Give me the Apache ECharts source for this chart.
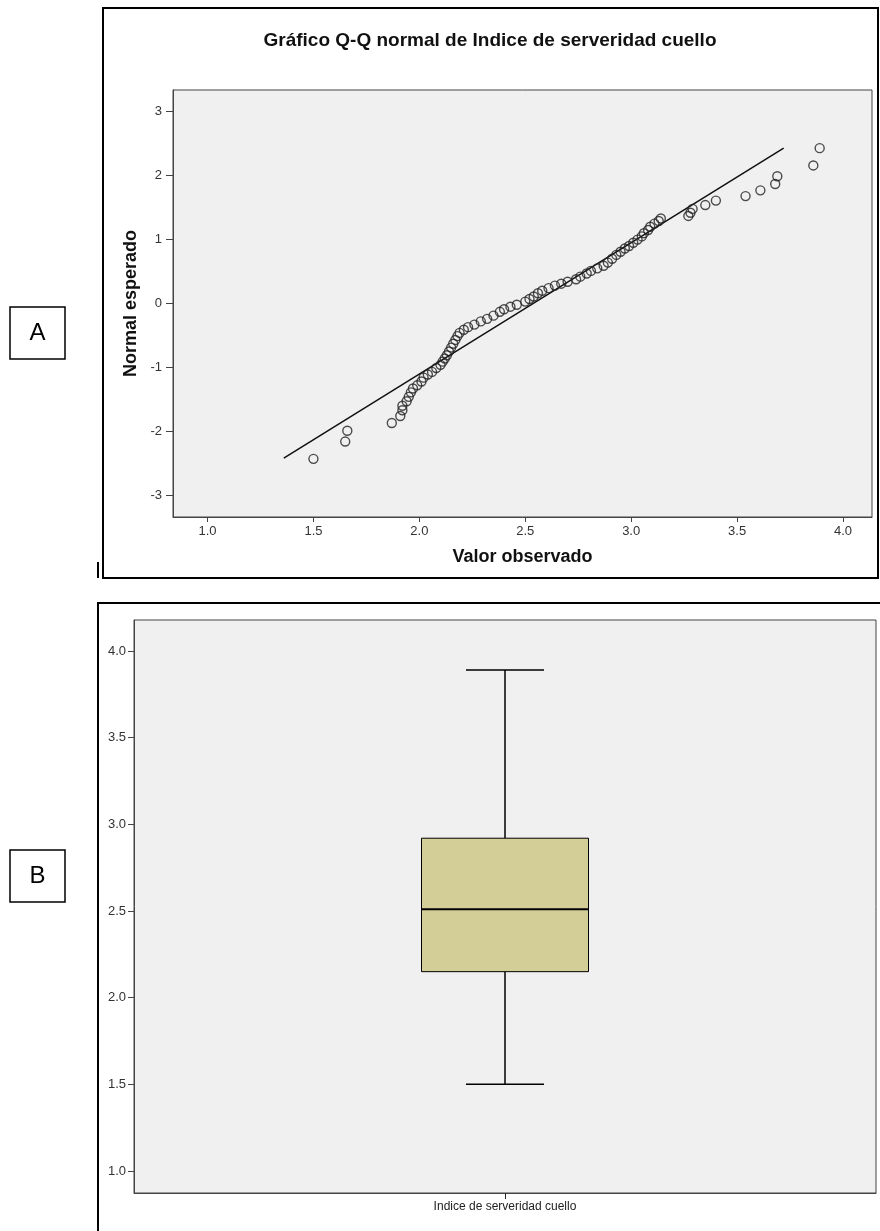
<!DOCTYPE html>
<html><head><meta charset="utf-8">
<script src="https://cdn.jsdelivr.net/npm/echarts@6/dist/echarts.min.js"></script>
<style>html,body{margin:0;padding:0;background:#fff}#c{width:880px;height:1231px}</style>
</head><body><div id="c"></div>
<script>
// Q-Q plot: observed value (x) and expected normal value (y)
const qqObserved = [1.50,1.65,1.66,1.87,1.91,1.92,1.92,1.94,1.95,1.96,1.97,1.99,2.01,2.02,2.04,2.06,2.08,2.10,2.11,2.12,2.13,2.14,2.15,2.16,2.17,2.18,2.19,2.21,2.23,2.26,2.29,2.32,2.35,2.38,2.40,2.43,2.46,2.50,2.52,2.54,2.56,2.58,2.61,2.64,2.67,2.70,2.74,2.76,2.79,2.81,2.84,2.87,2.89,2.91,2.93,2.95,2.97,2.99,3.01,3.03,3.05,3.06,3.08,3.09,3.11,3.13,3.14,3.27,3.28,3.29,3.35,3.40,3.54,3.61,3.68,3.69,3.86,3.89];
const qqExpected = [-2.43,-2.16,-1.99,-1.87,-1.76,-1.67,-1.60,-1.53,-1.46,-1.39,-1.33,-1.28,-1.22,-1.16,-1.11,-1.07,-1.01,-0.96,-0.91,-0.86,-0.81,-0.75,-0.69,-0.63,-0.57,-0.51,-0.46,-0.41,-0.37,-0.33,-0.28,-0.24,-0.19,-0.13,-0.09,-0.05,-0.02,0.03,0.07,0.11,0.16,0.20,0.24,0.28,0.31,0.34,0.38,0.42,0.47,0.51,0.55,0.59,0.64,0.70,0.76,0.81,0.86,0.90,0.95,1.00,1.05,1.10,1.15,1.20,1.25,1.29,1.33,1.37,1.42,1.48,1.54,1.61,1.68,1.77,1.87,1.99,2.16,2.43];
const refLineObserved = [1.36, 3.72];
const refLineExpected = [-2.42, 2.43];
const qqXTicks = [1.0,1.5,2.0,2.5,3.0,3.5,4.0];
const qqYTicks = [-3,-2,-1,0,1,2,3];
// Box plot
const boxCategories = ['Indice de serveridad cuello'];
const boxStats = [1.50, 2.15, 2.51, 2.92, 3.89]; // min, Q1, median, Q3, max
const boxYTicks = [1.0,1.5,2.0,2.5,3.0,3.5,4.0];

const FONT = 'Liberation Sans, Arial, sans-serif';
const chart = echarts.init(document.getElementById('c'), null, {renderer:'canvas'});

const qqData = qqObserved.map((v,i)=>[v, qqExpected[i]]);
const lineData = refLineObserved.map((v,i)=>[v, refLineExpected[i]]);

const tickLabel = {color:'#333', fontSize:13, fontFamily:FONT};

chart.setOption({
  animation:false,
  backgroundColor:'#fff',
  grid:[
    {left:173, top:90, width:699, height:427, show:true, backgroundColor:'#f0f0f0', borderColor:'#444', borderWidth:1},
    {left:134, top:620, width:742, height:573, show:true, backgroundColor:'#f0f0f0', borderColor:'#444', borderWidth:1}
  ],
  xAxis:[
    {gridIndex:0, type:'value', min:0.837, max:4.137,
     name:'Valor observado', nameLocation:'middle', nameGap:31,
     nameTextStyle:{fontSize:18, fontWeight:'bold', fontFamily:FONT, color:'#111'},
     axisLine:{show:true, onZero:false, lineStyle:{color:'#444'}},
     axisTick:{show:true, length:5, customValues:qqXTicks, lineStyle:{color:'#444'}},
     axisLabel:{customValues:qqXTicks, formatter:v=>v.toFixed(1), margin:8, ...tickLabel},
     splitLine:{show:false}},
    {gridIndex:1, type:'category', data:boxCategories,
     axisLine:{show:true, onZero:false, lineStyle:{color:'#444'}},
     axisTick:{show:true, length:6, alignWithLabel:true, lineStyle:{color:'#222'}},
     axisLabel:{color:'#222', fontSize:12, fontFamily:FONT, margin:8},
     splitLine:{show:false}}
  ],
  yAxis:[
    {gridIndex:0, type:'value', min:-3.34, max:3.34,
     name:'Normal esperado', nameLocation:'middle', nameGap:27,
     nameTextStyle:{fontSize:18, fontWeight:'bold', fontFamily:FONT, color:'#111'},
     axisLine:{show:true, onZero:false, lineStyle:{color:'#444'}},
     axisTick:{show:true, length:7, customValues:qqYTicks, lineStyle:{color:'#444'}},
     axisLabel:{customValues:qqYTicks, margin:11, ...tickLabel},
     splitLine:{show:false}},
    {gridIndex:1, type:'value', min:0.873, max:4.179,
     axisLine:{show:true, onZero:false, lineStyle:{color:'#444'}},
     axisTick:{show:true, length:6, customValues:boxYTicks, lineStyle:{color:'#444'}},
     axisLabel:{customValues:boxYTicks, formatter:v=>v.toFixed(1), margin:8, ...tickLabel},
     splitLine:{show:false}}
  ],
  series:[
    {type:'line', xAxisIndex:0, yAxisIndex:0, data:lineData, symbol:'none', silent:true,
     lineStyle:{color:'#111', width:1.5}, z:2},
    {type:'scatter', xAxisIndex:0, yAxisIndex:0, data:qqData, symbol:'circle', symbolSize:9,
     itemStyle:{color:'rgba(0,0,0,0)', borderColor:'#222', borderWidth:1.4}, z:3},
    {type:'custom', xAxisIndex:1, yAxisIndex:1, data:[[0].concat(boxStats)],
     renderItem:function(params, api){
       const c = api.value(0);
       const pMin = api.coord([c, api.value(1)]);
       const pQ1 = api.coord([c, api.value(2)]);
       const pMed = api.coord([c, api.value(3)]);
       const pQ3 = api.coord([c, api.value(4)]);
       const pMax = api.coord([c, api.value(5)]);
       const cx = pMin[0], bw = 167, cw = 78;
       const ls = {stroke:'#000', lineWidth:1.5};
       return {type:'group', children:[
         {type:'line', shape:{x1:cx-cw/2, y1:pMax[1], x2:cx+cw/2, y2:pMax[1]}, style:ls},
         {type:'line', shape:{x1:cx, y1:pMax[1], x2:cx, y2:pQ3[1]}, style:ls},
         {type:'line', shape:{x1:cx-cw/2, y1:pMin[1], x2:cx+cw/2, y2:pMin[1]}, style:ls},
         {type:'line', shape:{x1:cx, y1:pMin[1], x2:cx, y2:pQ1[1]}, style:ls},
         {type:'rect', shape:{x:cx-bw/2, y:pQ3[1], width:bw, height:pQ1[1]-pQ3[1]}, style:{fill:'#d3ce97', stroke:'#000', lineWidth:1}},
         {type:'line', shape:{x1:cx-bw/2, y1:pMed[1], x2:cx+bw/2, y2:pMed[1]}, style:{stroke:'#000', lineWidth:2.2}}
       ]};
     }}
  ],
  graphic:[
    {type:'rect', shape:{x:103, y:8, width:775, height:570}, style:{fill:'none', stroke:'#000', lineWidth:2}, z:100},
    {type:'line', shape:{x1:98, y1:562, x2:98, y2:578}, style:{stroke:'#000', lineWidth:2}, z:100},
    {type:'rect', shape:{x:98, y:603, width:800, height:700}, style:{fill:'none', stroke:'#000', lineWidth:2}, z:100},
    {type:'text', x:490, y:41, style:{text:'Gráfico Q-Q normal de Indice de serveridad cuello', font:'bold 19px '+FONT, fill:'#111', align:'center', verticalAlign:'middle'}, z:100},
    {type:'rect', shape:{x:10, y:307, width:55, height:52}, style:{fill:'#fff', stroke:'#000', lineWidth:1.5}, z:100},
    {type:'text', x:37.5, y:333, style:{text:'A', font:'24px '+FONT, fill:'#000', align:'center', verticalAlign:'middle'}, z:101},
    {type:'rect', shape:{x:10, y:850, width:55, height:52}, style:{fill:'#fff', stroke:'#000', lineWidth:1.5}, z:100},
    {type:'text', x:37.5, y:876, style:{text:'B', font:'24px '+FONT, fill:'#000', align:'center', verticalAlign:'middle'}, z:101}
  ]
});
</script></body></html>
